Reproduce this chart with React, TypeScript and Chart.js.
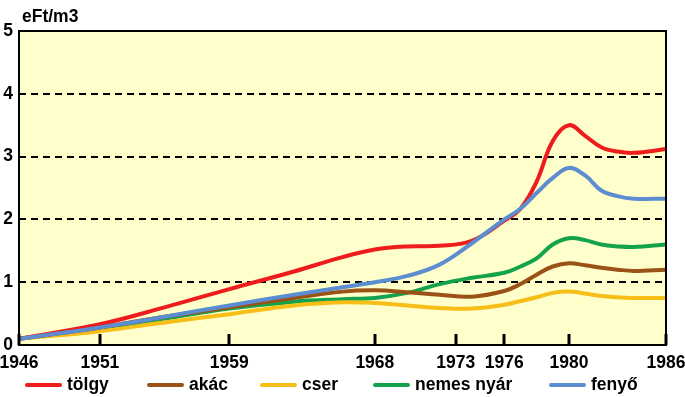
import React, { useEffect, useRef } from "react";
import { Chart, registerables } from "chart.js";
Chart.register(...registerables);

const years = [1946, 1951, 1955, 1959, 1963, 1966, 1968, 1970, 1972, 1974, 1976, 1977, 1978, 1979, 1980, 1981, 1982, 1983, 1984, 1986];
const tolgy = [0.1, 0.33, 0.6, 0.89, 1.17, 1.4, 1.52, 1.57, 1.58, 1.66, 1.98, 2.17, 2.6, 3.25, 3.5, 3.33, 3.15, 3.08, 3.06, 3.12];
const akac = [0.1, 0.28, 0.45, 0.6, 0.75, 0.85, 0.87, 0.84, 0.8, 0.77, 0.86, 0.97, 1.12, 1.25, 1.3, 1.27, 1.23, 1.2, 1.18, 1.2];
const cser = [0.1, 0.22, 0.36, 0.49, 0.63, 0.68, 0.67, 0.63, 0.59, 0.58, 0.64, 0.7, 0.76, 0.83, 0.85, 0.82, 0.78, 0.76, 0.75, 0.75];
const nemesNyar = [0.1, 0.27, 0.42, 0.58, 0.69, 0.73, 0.75, 0.83, 0.97, 1.07, 1.15, 1.25, 1.38, 1.6, 1.7, 1.67, 1.6, 1.57, 1.56, 1.6];
const fenyo = [0.1, 0.28, 0.45, 0.63, 0.8, 0.92, 1.0, 1.1, 1.28, 1.62, 2.0, 2.17, 2.42, 2.66, 2.82, 2.7, 2.46, 2.37, 2.33, 2.33];

const seriesNames = ["tölgy", "akác", "cser", "nemes nyár", "fenyő"];
const seriesValues = [tolgy, akac, cser, nemesNyar, fenyo];
const seriesColors = ["#EE1C1C", "#9A5216", "#F7BE18", "#14A24C", "#5B8DD0"];
const xTickYears = [1946, 1951, 1959, 1968, 1973, 1976, 1980, 1986];
const yTickValues = [0, 1, 2, 3, 4, 5];
const unitLabel = "eFt/m3";

const FONT_FAMILY = '"Liberation Sans", Arial, sans-serif';
const FONT_SIZE = 17.5;
const legendLineX = [25, 147, 260, 373, 549];

const decorPlugin = {
  id: "decor",
  beforeDraw(chart: any) {
    const { ctx, chartArea: a } = chart;
    ctx.save();
    ctx.fillStyle = "#FFFFCC";
    ctx.fillRect(a.left, a.top, a.right - a.left, a.bottom - a.top);
    ctx.restore();
  },
  afterDraw(chart: any) {
    const { ctx, chartArea: a } = chart;
    const xs = chart.scales.x;
    ctx.save();
    ctx.strokeStyle = "#000";
    ctx.lineWidth = 2;
    ctx.strokeRect(a.left, a.top, a.right - a.left, a.bottom - a.top);
    ctx.lineWidth = 3;
    xTickYears.forEach((yr) => {
      const px = Math.round(xs.getPixelForValue(yr));
      ctx.beginPath();
      ctx.moveTo(px, a.bottom);
      ctx.lineTo(px, a.bottom - 11);
      ctx.stroke();
    });
    ctx.fillStyle = "#000";
    ctx.font = `bold ${FONT_SIZE}px ${FONT_FAMILY}`;
    ctx.textBaseline = "alphabetic";
    ctx.textAlign = "left";
    ctx.fillText(unitLabel, 22, 22);
    const ly = 385;
    seriesNames.forEach((name, i) => {
      const x0 = legendLineX[i];
      ctx.strokeStyle = seriesColors[i];
      ctx.lineWidth = 4;
      ctx.lineCap = "round";
      ctx.beginPath();
      ctx.moveTo(x0 + 2, ly);
      ctx.lineTo(x0 + 35, ly);
      ctx.stroke();
      ctx.fillStyle = "#000";
      ctx.textBaseline = "alphabetic";
      ctx.fillText(name, x0 + 42, 390);
    });
    ctx.restore();
  },
};

export default function App() {
  const ref = useRef<HTMLCanvasElement | null>(null);
  useEffect(() => {
    document.body.style.margin = "0";
    const canvas = ref.current!;
    const chart = new Chart(canvas, {
      type: "line",
      data: {
        datasets: seriesNames.map((name, i) => ({
          label: name,
          data: years.map((yr, j) => ({ x: yr, y: seriesValues[i][j] })),
          borderColor: seriesColors[i],
          backgroundColor: seriesColors[i],
          borderWidth: 4,
          pointRadius: 0,
          fill: false,
          tension: 0.4,
          order: i === 4 ? 0 : i + 1,
        })),
      },
      options: {
        animation: false,
        responsive: false,
        layout: { padding: { top: 31, right: 19, left: 0, bottom: 0 } },
        plugins: { legend: { display: false }, tooltip: { enabled: false } },
        scales: {
          x: {
            type: "linear",
            min: 1946,
            max: 1986,
            afterBuildTicks: (s: any) => {
              s.ticks = xTickYears.map((v) => ({ value: v }));
            },
            afterFit: (s: any) => {
              s.height = 52;
              s.paddingLeft = 0;
              s.paddingRight = 0;
            },
            grid: { display: false, drawTicks: false },
            border: { display: false },
            ticks: {
              autoSkip: false,
              maxRotation: 0,
              padding: 8,
              color: "#000",
              font: { family: FONT_FAMILY, size: FONT_SIZE, weight: "bold" },
              callback: (v: any) => String(v),
            },
          },
          y: {
            min: 0,
            max: 5,
            afterBuildTicks: (s: any) => {
              s.ticks = yTickValues.map((v) => ({ value: v }));
            },
            afterFit: (s: any) => {
              s.width = 19;
              s.paddingTop = 0;
              s.paddingBottom = 0;
            },
            grid: {
              drawTicks: false,
              lineWidth: 2,
              color: (c: any) => (c.tick && c.tick.value > 0 && c.tick.value < 5 ? "#000" : "rgba(0,0,0,0)"),
            },
            border: { display: false, dash: [7, 5] },
            ticks: {
              padding: 6,
              color: "#000",
              font: { family: FONT_FAMILY, size: FONT_SIZE, weight: "bold" },
              callback: (v: any) => String(v),
            },
          },
        },
      },
      plugins: [decorPlugin],
    });
    return () => chart.destroy();
  }, []);
  return (
    <div style={{ position: "absolute", left: 0, top: 0, width: 685, height: 397, background: "#fff" }}>
      <canvas ref={ref} width={685} height={397} style={{ width: 685, height: 397, display: "block" }} />
    </div>
  );
}
